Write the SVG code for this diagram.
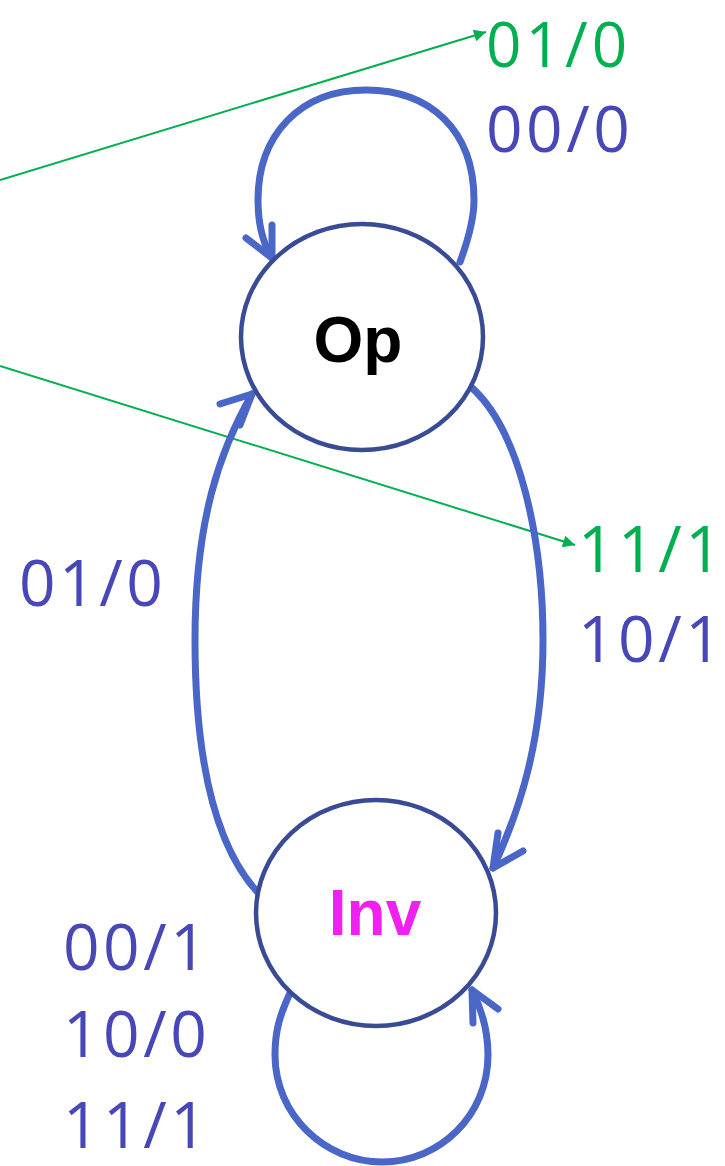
<svg xmlns="http://www.w3.org/2000/svg" width="725" height="1166" viewBox="0 0 725 1166">
<defs>
<style>
.state{fill:#ffffff;stroke:#394B94;stroke-width:4.5}
.name{font-family:"Liberation Sans",Arial,sans-serif;font-weight:bold;font-size:64px;text-anchor:middle}
.lbl{font-family:"Open Sans","Noto Sans",sans-serif;font-size:64px;letter-spacing:3.5px}
.p{fill:#4747B7}
.g{fill:#00B050}
.edge{fill:none;stroke:#4A66C7;stroke-width:7;stroke-linecap:round;stroke-linejoin:round}
.green{fill:none;stroke:#00B050;stroke-width:2}
</style>
<marker id="ga" viewBox="0 0 10 10" refX="10" refY="5" markerWidth="16" markerHeight="12" markerUnits="userSpaceOnUse" orient="auto">
<path d="M0,0 L10,5 L0,10 z" fill="#00B050"/>
</marker>
</defs>
<g id="connectors">
<path class="green" d="M0,180 L486,32" marker-end="url(#ga)"/>
<path class="green" d="M0,366 L575,545" marker-end="url(#ga)"/>
<path class="edge" d="M460,262 C470,235 474,215 474,200 C474,130 430,90 366,90 C300,90 258,135 258,200 C258,225 264,245 272,258"/>
<path class="edge" d="M246,238 L272,258 L272,225"/>
<path class="edge" d="M471,387 C520,430 543,540 543,640 C543,740 520,810 493,868"/>
<path class="edge" d="M498,833 L493,868 L523,851"/>
<path class="edge" d="M262,897 C215,850 195,760 195,640 C195,520 220,450 252,394"/>
<path class="edge" d="M220,404 L252,394 L240,425"/>
<path class="edge" d="M290,993 C280,1015 275,1030 275,1055 C275,1115 325,1162 382,1162 C440,1162 488,1115 488,1055 C488,1030 482,1010 472,990"/>
<path class="edge" d="M473,1023 L472,990 L498,1009"/>
</g>
<g id="node-op">
<ellipse class="state" cx="362" cy="337" rx="121" ry="113"/>
<text class="name" x="358" y="362" fill="#000000">Op</text>
</g>
<g id="node-inv">
<ellipse class="state" cx="376" cy="913" rx="120" ry="113"/>
<text class="name" x="375" y="935" fill="#F020F0">Inv</text>
</g>
<g id="labels">
<text class="lbl g" x="486" y="67" style="font-size:62px;letter-spacing:4px">01/0</text>
<text class="lbl p" x="486" y="152">00/0</text>
<text class="lbl g" x="578" y="572">11/1</text>
<text class="lbl p" x="578" y="662">10/1</text>
<text class="lbl p" x="19" y="606">01/0</text>
<text class="lbl p" x="63" y="970">00/1</text>
<text class="lbl p" x="63" y="1057">10/0</text>
<text class="lbl p" x="63" y="1148">11/1</text>
</g>
</svg>
